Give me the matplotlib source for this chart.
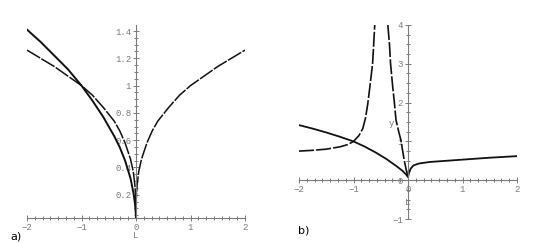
import matplotlib
matplotlib.use("Agg")
import matplotlib.pyplot as plt
from matplotlib.ticker import MultipleLocator

# panel a) values
a_x_left = [-2.0, -1.75, -1.5, -1.25, -1.0, -0.8, -0.6, -0.4, -0.3, -0.2, -0.1, -0.05, -0.02, -0.005, 0.0]
a_sqrt = [1.41, 1.32, 1.22, 1.12, 1.0, 0.89, 0.77, 0.63, 0.55, 0.45, 0.32, 0.22, 0.14, 0.07, 0.03]
a_x_cbrt = [-2.0, -1.5, -1.0, -0.8, -0.6, -0.4, -0.3, -0.2, -0.1, -0.05, -0.02, -0.005, 0.0,
            0.005, 0.02, 0.05, 0.1, 0.2, 0.3, 0.4, 0.6, 0.8, 1.0, 1.5, 2.0]
a_cbrt = [1.26, 1.14, 1.0, 0.93, 0.84, 0.74, 0.67, 0.58, 0.46, 0.37, 0.27, 0.17, 0.05,
          0.17, 0.27, 0.37, 0.46, 0.58, 0.67, 0.74, 0.84, 0.93, 1.0, 1.14, 1.26]
a_yticks = [0.2, 0.4, 0.6, 0.8, 1.0, 1.2, 1.4]
a_ylabels = ["0.2", "0.4", "0.6", "0.8", "1", "1.2", "1.4"]

# panel b) values
b_x_solid = [-2.0, -1.75, -1.5, -1.25, -1.0, -0.8, -0.6, -0.4, -0.2, -0.1, -0.03, 0.0,
             0.02, 0.05, 0.1, 0.2, 0.4, 0.7, 1.0, 1.5, 2.0]
b_solid = [1.42, 1.33, 1.23, 1.12, 1.0, 0.87, 0.72, 0.55, 0.35, 0.24, 0.14, 0.08,
           0.2, 0.3, 0.38, 0.43, 0.47, 0.5, 0.53, 0.58, 0.62]
b_x_dash1 = [-2.0, -1.75, -1.5, -1.25, -1.1, -1.0, -0.9, -0.83, -0.78, -0.74, -0.7, -0.65, -0.63, -0.61]
b_dash1 = [0.75, 0.77, 0.8, 0.86, 0.92, 1.0, 1.15, 1.33, 1.6, 1.95, 2.4, 3.0, 3.5, 4.0]
b_x_dash2 = [-0.37, -0.34, -0.32, -0.28, -0.25, -0.22, -0.17, -0.13, -0.07, -0.03, 0.0]
b_dash2 = [4.0, 3.5, 3.0, 2.4, 2.0, 1.55, 1.25, 1.03, 0.52, 0.25, 0.09]
b_yticks = [-1, 0, 1, 2, 3, 4]

xticks = [-2, -1, 0, 1, 2]
grey = "#7a7a7a"

fig = plt.figure(figsize=(5.45, 2.43), dpi=100)


def maple_axes(ax):
    for s in ("top", "right"):
        ax.spines[s].set_visible(False)
    ax.spines["left"].set_position(("data", 0))
    for s in ("left", "bottom"):
        ax.spines[s].set_color(grey)
        ax.spines[s].set_linewidth(0.8)
    ax.set_xticks(xticks)
    ax.set_xticklabels([str(t) if t >= 0 else "\u2212" + str(-t) for t in xticks])
    ax.xaxis.set_minor_locator(MultipleLocator(1 / 7))
    ax.tick_params(which="both", direction="inout", color=grey, width=0.7,
                   labelcolor=grey, labelsize=6.5, pad=1)
    ax.tick_params(which="major", length=5)
    ax.tick_params(which="minor", length=3)
    for lab in ax.get_xticklabels() + ax.get_yticklabels():
        lab.set_fontfamily("Liberation Mono")
    ax.patch.set_alpha(0)


# ---- a)
ax1 = fig.add_axes([27 / 545, 25 / 243, 218 / 545, 193 / 243])
ax1.plot(a_x_left, a_sqrt, color="#111111", lw=1.4)
ax1.plot(a_x_cbrt, a_cbrt, color="#111111", lw=1.1, dashes=(10, 1.0))
ax1.set_xlim(-2, 2)
ax1.set_ylim(0.03, 1.444)
ax1.set_yticks(a_yticks)
ax1.set_yticklabels(a_ylabels)
ax1.yaxis.set_minor_locator(MultipleLocator(0.05))
maple_axes(ax1)
ax1.text(0, -0.09, "L", transform=ax1.get_xaxis_transform(), ha="center", va="center",
         color=grey, fontsize=6.5, family="Liberation Mono")
fig.text(10 / 545, 1 - 236 / 243, "a)", ha="left", va="center", fontsize=8)

# ---- b)
ax2 = fig.add_axes([299 / 545, 24 / 243, 218 / 545, 194 / 243])
ax2.plot(b_x_solid, b_solid, color="#111111", lw=1.3)
ax2.plot(b_x_dash1, b_dash1, color="#111111", lw=1.2, dashes=(9, 1.3))
ax2.plot(b_x_dash2, b_dash2, color="#111111", lw=1.2, dashes=(9, 1.3))
ax2.set_xlim(-2, 2)
ax2.set_ylim(-1, 4)
ax2.spines["bottom"].set_position(("data", 0))
ax2.set_yticks(b_yticks)
ax2.set_yticklabels(["\u22121", "0", "1", "2", "3", "4"])
ax2.yaxis.set_minor_locator(MultipleLocator(0.25))
maple_axes(ax2)
ax2.text(-0.26, 1.47, "y", ha="right", va="center", color=grey, fontsize=6.5,
         family="Liberation Mono")
ax2.text(0, -0.57, "L", ha="center", va="center", color=grey, fontsize=6.5,
         family="Liberation Mono")
fig.text(304 / 545, 1 - 230 / 243, "b)", ha="center", va="center", fontsize=8)

fig.savefig("out.png", dpi=100)
